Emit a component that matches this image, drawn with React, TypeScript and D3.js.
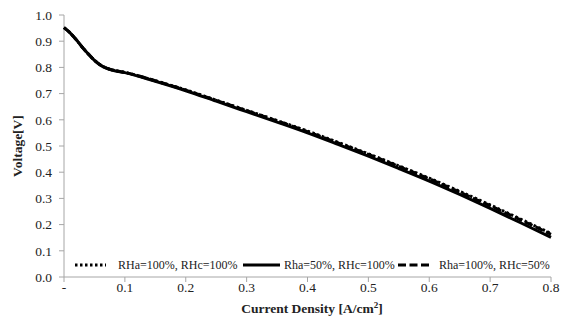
import React from "react";
import * as d3 from "d3";

const currentDensity = [0, 0.01, 0.02, 0.03, 0.04, 0.05, 0.06, 0.07, 0.08, 0.1, 0.15, 0.2, 0.25, 0.3, 0.35, 0.4, 0.45, 0.5, 0.55, 0.6, 0.65, 0.7, 0.75, 0.8];
const vRHa100RHc100 = [0.952, 0.932, 0.906, 0.877, 0.851, 0.827, 0.809, 0.797, 0.790, 0.781, 0.749, 0.714, 0.675, 0.636, 0.597, 0.557, 0.514, 0.470, 0.424, 0.377, 0.327, 0.275, 0.221, 0.166];
const vRha50RHc100 = [0.952, 0.932, 0.906, 0.877, 0.851, 0.827, 0.808, 0.796, 0.789, 0.780, 0.747, 0.711, 0.671, 0.631, 0.591, 0.550, 0.506, 0.461, 0.414, 0.366, 0.315, 0.262, 0.207, 0.151];
const vRha100RHc50 = [0.952, 0.932, 0.906, 0.877, 0.851, 0.827, 0.809, 0.797, 0.790, 0.781, 0.749, 0.713, 0.674, 0.635, 0.596, 0.555, 0.512, 0.468, 0.422, 0.375, 0.324, 0.272, 0.218, 0.163];

const xTicks = [0, 0.1, 0.2, 0.3, 0.4, 0.5, 0.6, 0.7, 0.8];
const yTicks = [0, 0.1, 0.2, 0.3, 0.4, 0.5, 0.6, 0.7, 0.8, 0.9, 1.0];

const seriesNames = ["RHa=100%, RHc=100%", "Rha=50%, RHc=100%", "Rha=100%, RHc=50%"];
const seriesValues = [vRHa100RHc100, vRha50RHc100, vRha100RHc50];
const seriesDash = ["2.5,2.5", "none", "8,3.5"];

const W = 570, H = 329;
const left = 64, right = 551, top = 15, bottom = 277;
const FONT = "Liberation Serif";
const AXIS = "#a6a6a6";

export default function App() {
  const x = d3.scaleLinear().domain([0, 0.8]).range([left, right]);
  const y = d3.scaleLinear().domain([0, 1]).range([bottom, top]);
  const line = d3.line<[number, number]>().x(d => x(d[0])).y(d => y(d[1])).curve(d3.curveMonotoneX);

  const legendItems = [
    { lx: 75, tx: 118 },
    { lx: 243, tx: 284 },
    { lx: 398, tx: 439 },
  ];
  const ly = 265;

  return (
    <svg width={W} height={H} style={{ position: "absolute", left: 0, top: 0, background: "#fff" }}>
      <rect x={0} y={0} width={W} height={H} fill="#fff" />
      <line x1={left} x2={left} y1={top} y2={bottom} stroke={AXIS} strokeWidth={1} />
      <line x1={left} x2={right} y1={bottom} y2={bottom} stroke={AXIS} strokeWidth={1} />
      {yTicks.map(t => (
        <g key={"y" + t}>
          <line x1={left - 5} x2={left} y1={y(t)} y2={y(t)} stroke={AXIS} />
          <text x={52} y={y(t)} dy="0.35em" textAnchor="end" fontFamily={FONT} fontSize={13.5} fill="#222">
            {t.toFixed(1)}
          </text>
        </g>
      ))}
      {xTicks.map(t => (
        <g key={"x" + t}>
          <line x1={x(t)} x2={x(t)} y1={bottom} y2={bottom + 5} stroke={AXIS} />
          <text x={x(t)} y={292} textAnchor="middle" fontFamily={FONT} fontSize={13.5} fill="#222">
            {t === 0 ? "-" : t.toFixed(1)}
          </text>
        </g>
      ))}
      {seriesValues.map((vals, i) => (
        <path
          key={"s" + i}
          d={line(currentDensity.map((c, j) => [c, vals[j]] as [number, number])) || ""}
          fill="none"
          stroke="#000"
          strokeWidth={3}
          strokeDasharray={seriesDash[i]}
        />
      ))}
      {legendItems.map((it, i) => (
        <g key={"l" + i}>
          <line x1={it.lx} x2={it.lx + (i === 1 ? 37 : 31)} y1={ly} y2={ly} stroke="#000" strokeWidth={3} strokeDasharray={seriesDash[i]} />
          <text x={it.tx} y={ly} dy="0.35em" fontFamily={FONT} fontSize={12} fill="#222">{seriesNames[i]}</text>
        </g>
      ))}
      <text x={312} y={313} textAnchor="middle" fontFamily={FONT} fontWeight="bold" fontSize={13.5} fill="#222">
        Current Density [A/cm<tspan fontSize={9} dy={-5}>2</tspan><tspan dy={5}>]</tspan>
      </text>
      <text transform="translate(22,146) rotate(-90)" textAnchor="middle" fontFamily={FONT} fontWeight="bold" fontSize={13.5} fill="#222">
        Voltage[V]
      </text>
    </svg>
  );
}
